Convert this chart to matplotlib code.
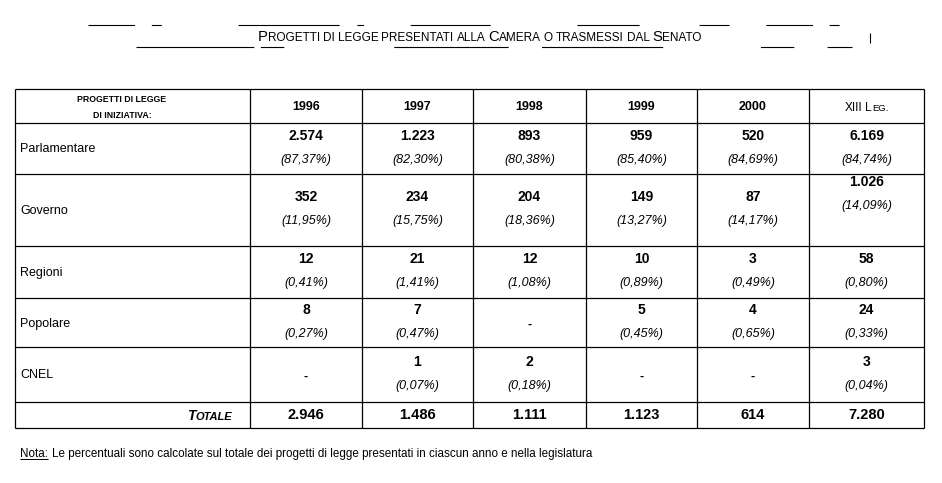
import matplotlib
matplotlib.use("Agg")
import matplotlib.pyplot as plt

# table data (read from the scanned page)
years = ["1996", "1997", "1998", "1999", "2000", "XIII Leg."]
categories = ["Parlamentare", "Governo", "Regioni", "Popolare", "CNEL"]
parlamentare = [2574, 1223, 893, 959, 520, 6169]
parlamentare_pct = [87.37, 82.30, 80.38, 85.40, 84.69, 84.74]
governo = [352, 234, 204, 149, 87, 1026]
governo_pct = [11.95, 15.75, 18.36, 13.27, 14.17, 14.09]
regioni = [12, 21, 12, 10, 3, 58]
regioni_pct = [0.41, 1.41, 1.08, 0.89, 0.49, 0.80]
popolare = [8, 7, None, 5, 4, 24]
popolare_pct = [0.27, 0.47, None, 0.45, 0.65, 0.33]
cnel = [None, 1, 2, None, None, 3]
cnel_pct = [None, 0.07, 0.18, None, None, 0.04]
totale = [2946, 1486, 1111, 1123, 614, 7280]

values = [parlamentare, governo, regioni, popolare, cnel]
percents = [parlamentare_pct, governo_pct, regioni_pct, popolare_pct, cnel_pct]

title = "Progetti di legge presentati alla Camera o trasmessi dal Senato"
nota = "Le percentuali sono calcolate sul totale dei progetti di legge presentati in ciascun anno e nella legislatura"

# layout in pixels
col_x = [15, 250, 362, 473, 586, 697, 809, 924]
row_y = [89, 123, 174, 246, 298, 347, 402, 428]

SANS = ["Liberation Sans", "DejaVu Sans"]


def fmt_int(v):
    return f"{v:,}".replace(",", ".")


def fmt_pct(p):
    return "(" + f"{p:.2f}".replace(".", ",") + "%)"


fig = plt.figure(figsize=(9.42, 4.83), dpi=100)
ax = fig.add_axes([0, 0, 1, 1])
ax.set_xlim(0, 942)
ax.set_ylim(483, 0)
ax.axis("off")

# grid lines
for y in row_y:
    ax.hlines(y, col_x[0], col_x[-1], color="black", lw=0.9)
for x in col_x:
    ax.vlines(x, row_y[0], row_y[-1], color="black", lw=0.9)

# header
ax.text(122, 100, "PROGETTI DI LEGGE", ha="center", va="center",
        fontsize=6.3, fontweight="bold", family=SANS)
ax.text(122, 115, "DI INIZIATIVA:", ha="center", va="center",
        fontsize=6.3, fontweight="bold", family=SANS)
for i, yr in enumerate(years[:-1]):
    cx = (col_x[i + 1] + col_x[i + 2]) / 2
    ax.text(cx, 107, yr, ha="center", va="center", fontsize=9,
            fontweight="bold", family=SANS)

renderer = fig.canvas.get_renderer()


def small_caps(x, y, text, big, small, ha="left", space_f=0.25, **kw):
    """draw text in small caps starting at x (data px), baseline y"""
    pieces = []
    for word in text.split(" "):
        if word.rstrip(".").isupper():
            pieces.append((word, big))
        elif word[0].isupper():
            pieces.append((word[0], big))
            if len(word) > 1:
                pieces.append((word[1:].upper(), small))
        else:
            pieces.append((word.upper(), small))
        pieces.append((" ", None))
    pieces = pieces[:-1]
    space = big * space_f * 100 / 72
    arts = []
    cur = x
    for s, size in pieces:
        if size is None:
            cur += space
            continue
        t = ax.text(cur, y, s, ha="left", va="baseline", fontsize=size, **kw)
        w = t.get_window_extent(renderer).width
        cur += w
        arts.append(t)
    shift = 0
    if ha == "right":
        shift = cur - x
    elif ha == "center":
        shift = (cur - x) / 2
    for t in arts:
        px, py = t.get_position()
        t.set_position((px - shift, py))


small_caps(col_x[6] + (col_x[7] - col_x[6]) / 2, 111, "XIII Leg.", 8.5, 6.8,
           ha="center", family=SANS)

# body rows
for r, cat in enumerate(categories):
    top, bot = row_y[r + 1], row_y[r + 2]
    mid = (top + bot) / 2
    ax.text(20, mid + 1, cat, ha="left", va="center", fontsize=9,
            family=SANS)
    for c in range(len(years)):
        cx = (col_x[c + 1] + col_x[c + 2]) / 2
        v, p = values[r][c], percents[r][c]
        if v is None:
            ax.text(cx, mid + 2, "-", ha="center", va="center", fontsize=9,
                    fontweight="bold", family=SANS)
            continue
        dy = -15 if (r == 1 and c == len(years) - 1) else 0
        ax.text(cx, mid - 13 + dy, fmt_int(v), ha="center", va="center",
                fontsize=10, fontweight="bold", family=SANS)
        ax.text(cx, mid + 11 + dy, fmt_pct(p), ha="center", va="center",
                fontsize=9, style="italic", family=SANS)

# totals row
ty = (row_y[-2] + row_y[-1]) / 2
small_caps(232, ty + 5, "Totale", 10, 8, ha="right", family=SANS,
           fontweight="bold", style="italic")
for c, v in enumerate(totale):
    cx = (col_x[c + 1] + col_x[c + 2]) / 2
    ax.text(cx, ty, fmt_int(v), ha="center", va="center", fontsize=10.5,
            fontweight="bold", family=SANS)

# title with broken rule lines (scan of a framed heading)
small_caps(258, 41, title, 10.7, 8.5, space_f=0.2, family=SANS)
ax.plot([88, 874], [25, 25], color="black", lw=0.8,
        ls=(0, (42, 15, 9, 69, 91, 16, 6, 42, 72, 78, 56, 54, 27, 33)))
ax.plot([136, 852], [47, 47], color="black", lw=0.8,
        ls=(0, (106, 6, 21, 99, 103, 30, 109, 88, 30, 30)))
ax.vlines(870, 33, 43, color="black", lw=0.8)

# note
t = ax.text(20, 457, "Nota:", ha="left", va="baseline", fontsize=8.4,
            family=SANS)
w = t.get_window_extent(renderer).width
ax.hlines(459, 20, 20 + w, color="black", lw=0.7)
ax.text(20 + w + 4, 457, nota, ha="left", va="baseline", fontsize=8.4,
        family=SANS)

fig.savefig("out.png", dpi=100, facecolor="white")
